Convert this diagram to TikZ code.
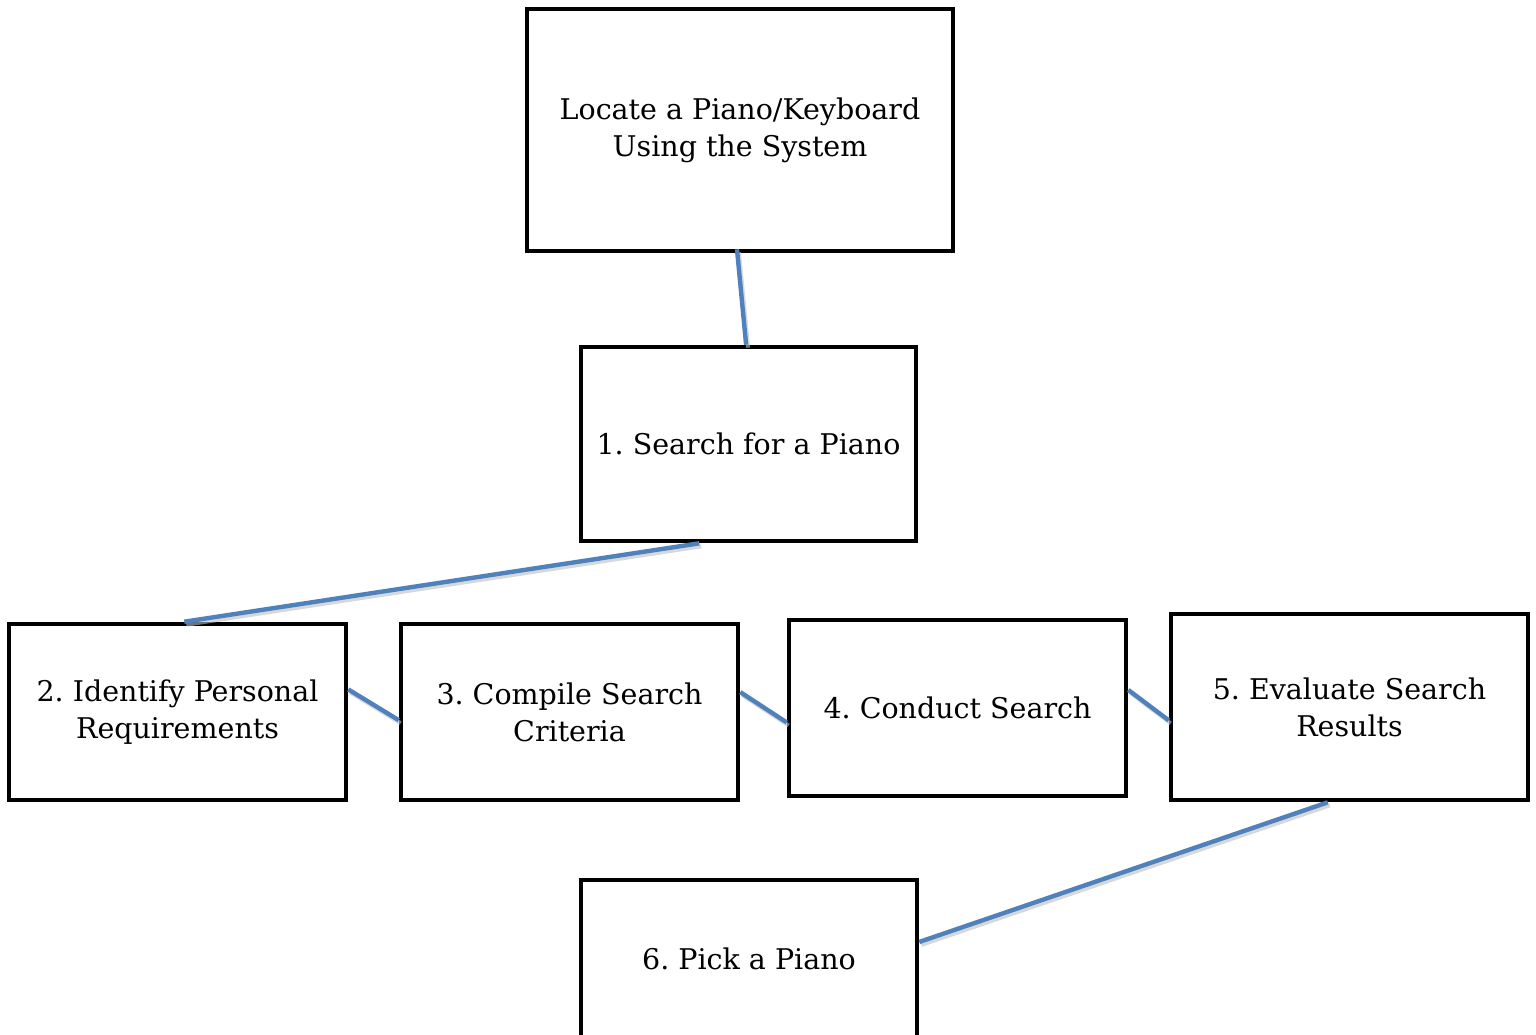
\documentclass[tikz,border=0pt]{standalone}
\usepackage{fontspec}
\setmainfont{DejaVu Serif}
\usetikzlibrary{calc}
\definecolor{linkblue}{HTML}{4F81BD}
\tikzset{
  boxnode/.style={draw=black, line width=4.6pt, inner sep=0pt, align=center,
    font=\fontsize{28.5}{37}\selectfont},
  boxtext/.style={align=center, font=\fontsize{28.5}{37}\selectfont},
  link/.style={draw=linkblue, line width=4.4pt},
  linkshadow/.style={draw=black!25, line width=4pt, opacity=0.6}
}
\begin{document}
\frenchspacing
\begin{tikzpicture}[x=1pt,y=-1pt]
\useasboundingbox (0,0) rectangle (1536,1034);
\fill[white] (0,0) rectangle (1536,1034);
% boxes
\node[boxnode, minimum width=426pt, minimum height=242pt] (top) at (740,130) {};
\node[boxtext] (toptext) at (740,130) {Locate a Piano/Keyboard\\Using the System};
\node[boxnode, minimum width=335pt, minimum height=194pt] (b1) at (748.5,444) {1. Search for a Piano};
\node[boxnode, minimum width=337pt, minimum height=176pt] (b2) at (177.5,712) {2. Identify Personal\\Requirements};
\node[boxnode, minimum width=337pt, minimum height=176pt] (b3) at (569.5,712) {3. Compile Search\\Criteria};
\node[boxnode, minimum width=337pt, minimum height=176pt] (b4) at (957.5,708) {4. Conduct Search};
\node[boxnode, minimum width=357pt, minimum height=186pt] (b5) at (1349.5,707) {5. Evaluate Search\\Results};
\node[boxnode, minimum width=336pt, minimum height=190pt] (b6) at (749,975) {};
\node[boxtext] (b6text) at (749,959) {6. Pick a Piano};
% connector end points
\coordinate (c0a) at ($(top.south west)!0.493!(top.south east)+(0,-4)$);
\coordinate (c0b) at ($(b1.north west)!0.493!(b1.north east)$);
\coordinate (c1a) at ($(b1.south west)!0.355!(b1.south east)$);
\coordinate (c1b) at ($(b2.north west)!0.52!(b2.north east)$);
\coordinate (c2a) at ($(b2.north east)!0.375!(b2.south east)$);
\coordinate (c2b) at ($(b3.north west)!0.545!(b3.south west)$);
\coordinate (c3a) at ($(b3.north east)!0.39!(b3.south east)$);
\coordinate (c3b) at ($(b4.north west)!0.58!(b4.south west)$);
\coordinate (c4a) at ($(b4.north east)!0.40!(b4.south east)$);
\coordinate (c4b) at ($(b5.north west)!0.57!(b5.south west)$);
\coordinate (c5a) at ($(b5.south west)!0.44!(b5.south east)$);
\coordinate (c5b) at ($(b6.north east)!0.33!(b6.south east)$);
% shadows
\foreach \a/\b in {c0a/c0b,c1a/c1b,c2a/c2b,c3a/c3b,c4a/c4b,c5a/c5b}{
  \draw[linkshadow] ($(\a)+(2,3)$) -- ($(\b)+(2,3)$);
}
% connectors
\draw[link] (c0a) -- (c0b);
\draw[link] (c1a) -- (c1b);
\draw[link] (c2a) -- (c2b);
\draw[link] (c3a) -- (c3b);
\draw[link] (c4a) -- (c4b);
\draw[link] (c5a) -- (c5b);
\end{tikzpicture}
\end{document}
